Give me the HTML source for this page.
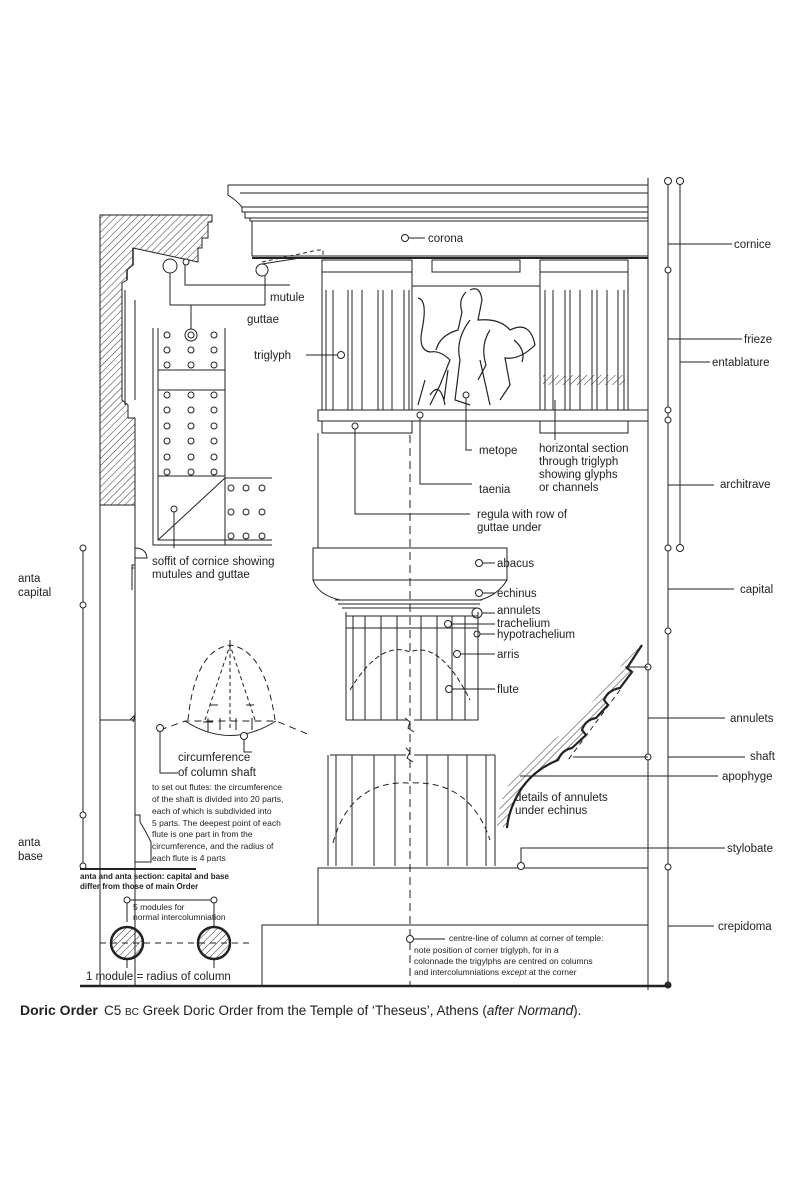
<!DOCTYPE html>
<html><head><meta charset="utf-8"><style>
html,body{margin:0;padding:0;background:#fff}
svg{display:block}
text{font-family:"Liberation Sans",sans-serif;fill:#222}
</style></head><body>
<svg width="800" height="1200" viewBox="0 0 800 1200" xmlns="http://www.w3.org/2000/svg">
<defs>
<pattern id="h" width="5" height="5" patternUnits="userSpaceOnUse" patternTransform="rotate(45)"><line x1="0" y1="0" x2="0" y2="5" stroke="#333" stroke-width="1"/></pattern>
</defs>
<g fill="none" stroke="#222" stroke-width="1">
<!-- right dimension lines -->
<line x1="648" y1="178" x2="648" y2="990"/>
<line x1="668" y1="181" x2="668" y2="985"/>
<line x1="680" y1="181" x2="680" y2="548"/>
<circle cx="668" cy="181" r="3.5" fill="#fff"/><circle cx="680" cy="181" r="3.5" fill="#fff"/>
<circle cx="668" cy="270" r="3" fill="#fff"/><circle cx="668" cy="410" r="3" fill="#fff"/><circle cx="668" cy="420" r="3" fill="#fff"/>
<circle cx="668" cy="548" r="3" fill="#fff"/><circle cx="680" cy="548" r="3.5" fill="#fff"/>
<circle cx="668" cy="631" r="3" fill="#fff"/><circle cx="648" cy="667" r="3" fill="#fff"/><circle cx="648" cy="757" r="3" fill="#fff"/>
<circle cx="668" cy="867" r="3" fill="#fff"/><circle cx="668" cy="985" r="3" fill="#333"/>
<line x1="668" y1="244" x2="732" y2="244"/>
<line x1="668" y1="339" x2="742" y2="339"/>
<line x1="680" y1="362" x2="710" y2="362"/>
<line x1="668" y1="485" x2="714" y2="485"/>
<line x1="668" y1="589" x2="734" y2="589"/>
<line x1="648" y1="718" x2="725" y2="718"/>
<line x1="668" y1="757" x2="745" y2="757"/>
<line x1="520" y1="776" x2="718" y2="776"/>
<line x1="668" y1="926" x2="714" y2="926"/>
<line x1="573" y1="757" x2="648" y2="757"/>
<line x1="625" y1="667" x2="648" y2="667"/>
<!-- cornice -->
<path d="M228 185 H648 M228 185 V195 Q236 200 242 207 H648 M242 207 V212 H648 M245 212 V218 H648 M250 218 V221 H648"/>
<line x1="240" y1="193" x2="648" y2="193"/>
<rect x="252" y="221" width="396" height="35"/>
<line x1="252" y1="258" x2="648" y2="258" stroke-width="2"/>
<circle cx="405" cy="238" r="3.5" fill="#fff"/><line x1="409" y1="238" x2="425" y2="238"/>
<!-- mutule dashed -->
<path d="M262 262 L318 250 L323 250 L323 258" stroke-dasharray="4 3"/>
<path d="M262 264 L300 258"/>
<circle cx="262" cy="270" r="6"/>
<!-- mutules -->
<rect x="322" y="260" width="90" height="12"/><rect x="432" y="260" width="88" height="12"/><rect x="540" y="260" width="88" height="12"/>
<!-- frieze -->
<line x1="322" y1="272" x2="322" y2="410"/><line x1="412" y1="272" x2="412" y2="410"/>
<line x1="540" y1="272" x2="540" y2="410"/><line x1="628" y1="272" x2="628" y2="410"/>
<line x1="412" y1="286" x2="540" y2="286"/>
<g stroke-width="1">
<path d="M326 290 V410 M333 290 V410 M348 290 V410 M352 290 V410 M362 290 V410 M378 290 V410 M383 290 V410 M392 290 V410 M404 290 V410 M409 290 V410"/>
<path d="M545 290 V410 M553 290 V410 M565 290 V410 M570 290 V410 M580 290 V410 M592 290 V410 M597 290 V410 M607 290 V410 M618 290 V410 M624 290 V410"/>
</g>
<rect x="543" y="375" width="82" height="10" fill="url(#h)" stroke="none"/>
<!-- sculpture approximate -->
<g stroke-width="1.2">
<path d="M418 298 Q428 300 422 330 Q418 350 430 352 Q440 350 450 360 L440 385 L430 405 M425 380 L418 405 M470 290 Q480 285 482 300 L478 320 Q500 318 510 330 Q530 320 535 345 Q520 360 505 358 L510 385 L500 400 M470 320 Q455 340 460 360 L455 400 L470 405 M480 360 L490 405"/>
<path d="M466 292 Q458 300 462 312 L458 330 Q440 335 436 350 M490 330 Q480 345 486 365 L478 380 M514 340 Q526 350 522 362 M430 395 Q440 380 445 405 M448 370 L444 400"/>
</g>
<circle cx="466" cy="395" r="3" fill="#fff"/>
<path d="M466 398 V450 H472"/>
<!-- taenia -->
<rect x="318" y="410" width="330" height="11"/>
<circle cx="420" cy="415" r="3" fill="#fff"/>
<rect x="322" y="421" width="90" height="12"/><rect x="540" y="421" width="88" height="12"/>
<path d="M420 418 V484 H472"/>
<path d="M555 400 V440"/>
<circle cx="355" cy="426" r="3" fill="#fff"/><path d="M355 429 V514 H470"/>
<!-- architrave -->
<line x1="318" y1="433" x2="318" y2="548"/>
<circle cx="341" cy="355" r="3.5" fill="#fff"/><line x1="306" y1="355" x2="337" y2="355"/>
<!-- centre line -->
<line x1="410" y1="435" x2="410" y2="985" stroke-dasharray="8 5"/>
<!-- capital -->
<rect x="313" y="548" width="194" height="32"/>
<path d="M313 580 Q318 595 340 600 H480 Q498 595 507 580"/>
<path d="M335 600 H482 M338 604 H480 M342 608 H478"/>
<circle cx="479" cy="563" r="3.5" fill="#fff"/><line x1="483" y1="563" x2="495" y2="563"/>
<circle cx="479" cy="593" r="3.5" fill="#fff"/><line x1="483" y1="593" x2="495" y2="593"/>
<circle cx="477" cy="613" r="5"/><line x1="482" y1="613" x2="495" y2="613"/>
<circle cx="448" cy="624" r="3.5" fill="#fff"/><line x1="452" y1="624" x2="495" y2="624"/>
<circle cx="477" cy="634" r="3" fill="#fff"/><line x1="480" y1="634" x2="495" y2="634"/>
<circle cx="457" cy="654" r="3.5" fill="#fff"/><line x1="461" y1="654" x2="495" y2="654"/>
<circle cx="449" cy="689" r="3.5" fill="#fff"/><line x1="453" y1="689" x2="495" y2="689"/>
<!-- upper shaft -->
<path d="M346 612 V720 H408 M414 720 H478 V612" />
<path d="M346 616 H478 M346 628 H478"/>
<path d="M353 616 V720 M365 616 V720 M381 616 V720 M397 616 V720 M421 616 V720 M437 616 V720 M452 616 V720 M465 616 V720"/>
<path d="M350 690 Q380 640 410 652 Q440 640 470 700" stroke-dasharray="5 3"/>
<path d="M405 718 L410 722 L408 728 L414 732"/>
<!-- lower shaft -->
<path d="M328 755 V866 M495 755 V866 M330 755 H406 M414 755 H495"/>
<path d="M336 755 V866 M352 755 V866 M374 755 V866 M395 755 V866 M427 755 V866 M448 755 V866 M467 755 V866 M486 755 V866"/>
<path d="M333 843 Q350 780 410 783 Q470 780 490 840" stroke-dasharray="6 4"/>
<path d="M406 748 L410 752 L407 758 L413 762"/>
<!-- stylobate, crepidoma -->
<rect x="318" y="868" width="330" height="57"/>
<path d="M262 985 V925 H318 M648 925 V985"/>
<line x1="80" y1="986" x2="670" y2="986" stroke-width="2.5"/>
<circle cx="521" cy="866" r="3.5" fill="#fff"/><path d="M521 862 V848 H725"/>
<circle cx="410" cy="939" r="3.5" fill="#fff"/><line x1="414" y1="939" x2="445" y2="939"/>
<!-- annulet detail -->
<path d="M642 645 L627 668 L632 672 L620 688 Q608 690 604 700 L608 705 L596 718 Q585 720 582 730 L586 735 L572 748 Q562 750 558 760 Q528 772 515 800 Q508 815 507 828 L497 826 Q500 790 520 770 Q545 745 560 735 L590 705 L615 675 L632 650 Z" fill="url(#h)" stroke="none"/>
<path d="M642 645 L627 668 L632 672 L620 688 Q608 690 604 700 L608 705 L596 718 Q585 720 582 730 L586 735 L572 748 Q562 750 558 760 Q528 772 515 800 Q508 815 507 828" stroke-width="2.2"/>
<path d="M620 690 L568 760" stroke-dasharray="5 4"/>
</g>

<!-- LEFT: anta cornice section -->
<g fill="none" stroke="#222" stroke-width="1">
<path d="M100 215 H212 V222 H208 V238 H202 V248 H198 V262 L133 248 V265 L127 270 V280 L122 283 V400 L128 405 V418 L135 418 V505 H100 Z" fill="url(#h)"/>
<path d="M133 248 V265 M127 270 V280" stroke-width="1.5"/>
<path d="M125 290 V405 M135 300 V400"/>
<path d="M100 505 V985 M135 505 V548 M135 548 V985"/>
<path d="M135 548 Q146 548 147 558 H135 M135 565 H132 V590 M132 568 H134 M135 570 V720 M135 736 V985"/>
<path d="M130 720 L135 715 L133 722" />
<path d="M100 720 H135"/>
<path d="M135 815 H140 V822 Q145 830 151 842 V862 H135"/>
<!-- soffit -->
<path d="M153 328 V545 H272 M158 328 V540 H272 M225 328 V478 H272 M158 370 H225 M158 390 H225 M158 476 H225"/>
<path d="M225 478 V545 M158 540 L225 478"/>
</g>
<g fill="#fff" stroke="#222">
<circle cx="167" cy="335" r="3"/><circle cx="191" cy="335" r="6"/><circle cx="191" cy="335" r="3"/><circle cx="214" cy="335" r="3"/>
<circle cx="167" cy="350" r="3"/><circle cx="191" cy="350" r="3"/><circle cx="214" cy="350" r="3"/>
<circle cx="167" cy="365" r="3"/><circle cx="191" cy="365" r="3"/><circle cx="214" cy="365" r="3"/>
<circle cx="167" cy="395" r="3"/><circle cx="191" cy="395" r="3"/><circle cx="214" cy="395" r="3"/>
<circle cx="167" cy="410" r="3"/><circle cx="191" cy="410" r="3"/><circle cx="214" cy="410" r="3"/>
<circle cx="167" cy="426" r="3"/><circle cx="191" cy="426" r="3"/><circle cx="214" cy="426" r="3"/>
<circle cx="167" cy="441" r="3"/><circle cx="191" cy="441" r="3"/><circle cx="214" cy="441" r="3"/>
<circle cx="167" cy="457" r="3"/><circle cx="191" cy="457" r="3"/><circle cx="214" cy="457" r="3"/>
<circle cx="167" cy="472" r="3"/><circle cx="191" cy="472" r="3"/><circle cx="214" cy="472" r="3"/>
<circle cx="231" cy="488" r="3"/><circle cx="246" cy="488" r="3"/><circle cx="262" cy="488" r="3"/>
<circle cx="231" cy="512" r="3"/><circle cx="246" cy="512" r="3"/><circle cx="262" cy="512" r="3"/>
<circle cx="231" cy="536" r="3"/><circle cx="246" cy="536" r="3"/><circle cx="262" cy="536" r="3"/>
<circle cx="174" cy="509" r="3"/>
<circle cx="186" cy="262" r="3"/>
</g>
<g fill="none" stroke="#222">
<circle cx="170" cy="266" r="7"/>
<path d="M170 273 V305 H265 V290 M191 305 V329 M185 265 V285 H290 M265 276 V290"/>
<path d="M174 512 V548"/>
<!-- anta dimension -->
<line x1="83" y1="548" x2="83" y2="866"/>
<circle cx="83" cy="548" r="3" fill="#fff"/><circle cx="83" cy="605" r="3" fill="#fff"/><circle cx="83" cy="815" r="3" fill="#fff"/><circle cx="83" cy="866" r="3" fill="#fff"/>
<line x1="80" y1="869" x2="196" y2="869" stroke-width="2"/>
<!-- cone -->
<path d="M230 640 V728" stroke-dasharray="4 3"/>
<path d="M188 720 Q195 650 230 645 Q265 650 275 720" stroke-dasharray="6 4"/>
<path d="M205 720 L230 645 L255 720" stroke-dasharray="4 3"/>
<path d="M185 721 Q230 750 276 721"/>
<path d="M160 730 L185 721 H276 L310 735" stroke-dasharray="7 5"/>
<circle cx="160" cy="728" r="3.5" fill="#fff"/><circle cx="244" cy="736" r="3.5" fill="#fff"/>
<path d="M160 732 V773 H178 M244 740 V752 H252"/>
<path d="M208 718 V732 M203 722 H213 M220 718 V730 M236 718 V730 M252 718 V730 M210 705 H218 M246 705 H254"/>
<!-- modules -->
<circle cx="127" cy="943" r="16" fill="url(#h)" stroke-width="2.5"/>
<circle cx="214" cy="943" r="16" fill="url(#h)" stroke-width="2.5"/>
<line x1="100" y1="943" x2="250" y2="943" stroke-dasharray="6 5"/>
<path d="M127 959 V968 M214 959 V968 M127 900 V922 M214 900 V927"/>
<line x1="127" y1="900" x2="214" y2="900"/>
<circle cx="127" cy="900" r="3" fill="#fff"/><circle cx="214" cy="900" r="3" fill="#fff"/>
</g>

<!-- LABELS -->
<g font-size="11.5">
<text x="428" y="242">corona</text>
<text x="270" y="301">mutule</text>
<text x="247" y="323">guttae</text>
<text x="254" y="359">triglyph</text>
<text x="479" y="454">metope</text>
<text x="479" y="493">taenia</text>
<text x="539" y="452">horizontal section</text>
<text x="539" y="465">through triglyph</text>
<text x="539" y="478">showing glyphs</text>
<text x="539" y="491">or channels</text>
<text x="477" y="518">regula with row of</text>
<text x="477" y="531">guttae under</text>
<text x="152" y="565">soffit of cornice showing</text>
<text x="152" y="578">mutules and guttae</text>
<text x="497" y="567">abacus</text>
<text x="497" y="597">echinus</text>
<text x="497" y="614">annulets</text>
<text x="497" y="627">trachelium</text>
<text x="497" y="638">hypotrachelium</text>
<text x="497" y="658">arris</text>
<text x="497" y="693">flute</text>
<text x="515" y="801">details of annulets</text>
<text x="515" y="814">under echinus</text>
<text x="178" y="761">circumference</text>
<text x="178" y="776">of column shaft</text>
<text x="734" y="248">cornice</text>
<text x="744" y="343">frieze</text>
<text x="712" y="366">entablature</text>
<text x="720" y="488">architrave</text>
<text x="740" y="593">capital</text>
<text x="730" y="722">annulets</text>
<text x="750" y="760">shaft</text>
<text x="722" y="780">apophyge</text>
<text x="727" y="852">stylobate</text>
<text x="718" y="930">crepidoma</text>
<text x="18" y="582">anta</text>
<text x="18" y="596">capital</text>
<text x="18" y="846">anta</text>
<text x="18" y="860">base</text>
<text x="86" y="980">1 module = radius of column</text>
</g>
<g font-size="8.5">
<text x="152" y="790">to set out flutes: the circumference</text>
<text x="152" y="802">of the shaft is divided into 20 parts,</text>
<text x="152" y="814">each of which is subdivided into</text>
<text x="152" y="826">5 parts. The deepest point of each</text>
<text x="152" y="837">flute is one part in from the</text>
<text x="152" y="849">circumference, and the radius of</text>
<text x="152" y="861">each flute is 4 parts</text>
<text x="80" y="879" font-weight="bold" font-size="8">anta and anta section: capital and base</text>
<text x="80" y="889" font-weight="bold" font-size="8">differ from those of main Order</text>
<text x="133" y="910">5 modules for</text>
<text x="133" y="920">normal intercolumniation</text>
<text x="449" y="941">centre-line of column at corner of temple:</text>
<text x="414" y="953">note position of corner triglyph, for in a</text>
<text x="414" y="964">colonnade the trigylphs are centred on columns</text>
<text x="414" y="975">and intercolumniations <tspan font-style="italic">except</tspan> at the corner</text>
</g>
<text x="20" y="1015" font-size="14" font-weight="bold">Doric Order</text>
<text x="104" y="1015" font-size="13.5">C5 <tspan font-size="10">BC</tspan> Greek Doric Order from the Temple of ‘Theseus’, Athens (<tspan font-style="italic">after Normand</tspan>).</text>
</svg>
</body></html>
